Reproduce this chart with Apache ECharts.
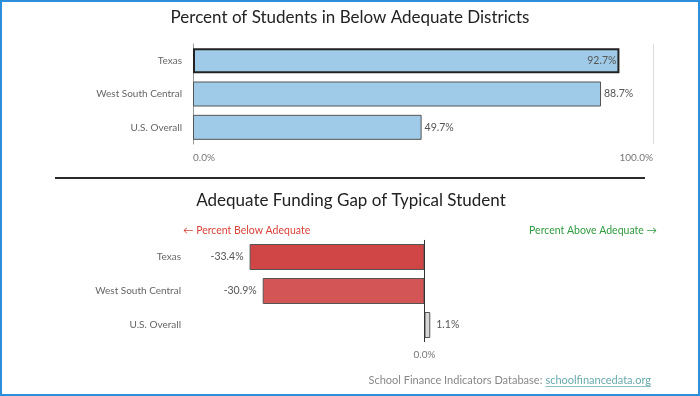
<!DOCTYPE html>
<html><head><meta charset="utf-8">
<script src="https://cdn.jsdelivr.net/npm/echarts@6/dist/echarts.min.js"></script>
<style>html,body{margin:0;padding:0;background:#fff}#c{width:700px;height:396px}</style>
</head><body><div id="c"></div>
<script>
const categories = ['Texas', 'West South Central', 'U.S. Overall'];
const pctBelow = [92.7, 88.7, 49.7];
const fundingGap = [-33.4, -30.9, 1.1];
const topTicks = [0, 100];
const bottomTicks = [0];

const FONT = 'Lato, "Open Sans", sans-serif';
const chart = echarts.init(document.getElementById('c'), null, {renderer: 'canvas'});

function textWidth(t, font) {
  const ctx = document.createElement('canvas').getContext('2d');
  ctx.font = font;
  return ctx.measureText(t).width;
}

const topData = pctBelow.map((v, i) => ({
  value: v,
  itemStyle: i === 0 ? {borderColor: '#222', borderWidth: 2} : {},
  label: i === 0 ? {position: 'insideRight'} : {position: 'right'}
}));
const gapColors = ['#d04545', '#d35555', '#d6d6d6'];
const bottomData = fundingGap.map((v, i) => ({
  value: v,
  itemStyle: {color: v < 0 ? gapColors[i] : gapColors[2]},
  label: {position: v < 0 ? 'left' : 'right'}
}));

const footFont = '11px ' + FONT;
const linkText = 'schoolfinancedata.org';
const linkW = textWidth(linkText, footFont);
const linkRight = 651;
const linkLeft = linkRight - linkW;

chart.setOption({
  animation: false,
  textStyle: {fontFamily: FONT},
  grid: [
    {left: 193, right: 47, top: 44, height: 100},
    {left: 192, right: 43, top: 240, height: 102}
  ],
  xAxis: [
    {gridIndex: 0, type: 'value', min: topTicks[0], max: topTicks[1], interval: 100,
     axisLine: {show: false}, axisTick: {show: false},
     splitLine: {show: true, lineStyle: {color: '#dcdcdc', width: 1}},
     axisLabel: {formatter: v => v.toFixed(1) + '%', color: '#777', fontSize: 10, margin: 9,
                 alignMinLabel: 'left', alignMaxLabel: 'right', fontFamily: FONT}},
    {gridIndex: 1, type: 'value', min: -44.4, max: 44.4,
     axisLine: {show: false}, axisTick: {show: false}, splitLine: {show: false},
     axisLabel: {customValues: bottomTicks, formatter: v => v.toFixed(1) + '%', color: '#777', fontSize: 10, margin: 8, fontFamily: FONT}}
  ],
  yAxis: [
    {gridIndex: 0, type: 'category', data: categories, inverse: true,
     axisLine: {show: true, lineStyle: {color: '#999'}}, axisTick: {show: false},
     axisLabel: {color: '#666', fontSize: 10, margin: 11, fontFamily: FONT}},
    {gridIndex: 1, type: 'category', data: categories, inverse: true,
     axisLine: {show: true, lineStyle: {color: '#e2e2e2'}}, axisTick: {show: false},
     axisLabel: {color: '#666', fontSize: 10, margin: 11, fontFamily: FONT}}
  ],
  series: [
    {type: 'bar', xAxisIndex: 0, yAxisIndex: 0, data: topData, barWidth: 25,
     itemStyle: {color: '#9fcbe8', borderColor: '#555', borderWidth: 1},
     label: {show: true, formatter: p => p.value.toFixed(1) + '%', color: '#555', fontSize: 10.5, distance: 3, fontFamily: FONT}},
    {type: 'bar', xAxisIndex: 1, yAxisIndex: 1, data: bottomData, barWidth: 26,
     itemStyle: {borderColor: '#555', borderWidth: 1},
     label: {show: true, formatter: p => p.value.toFixed(1) + '%', color: '#555', fontSize: 10.5, distance: 6, fontFamily: FONT},
     markLine: {silent: true, symbol: 'none', label: {show: false},
                lineStyle: {color: '#333', type: 'solid', width: 1},
                data: [{xAxis: 0}]}}
  ],
  graphic: [
    {type: 'rect', shape: {x: 1, y: 1, width: 698, height: 394}, style: {fill: 'none', stroke: '#2b8fdb', lineWidth: 2}, silent: true},
    {type: 'text', x: 350, y: 18, style: {text: 'Percent of Students in Below Adequate Districts', fill: '#222', font: '17px ' + FONT, textAlign: 'center', textVerticalAlign: 'middle'}},
    {type: 'line', shape: {x1: 55, y1: 178, x2: 645, y2: 178}, style: {stroke: '#2a2a2a', lineWidth: 2}},
    {type: 'text', x: 351, y: 201, style: {text: 'Adequate Funding Gap of Typical Student', fill: '#222', font: '17px ' + FONT, textAlign: 'center', textVerticalAlign: 'middle'}},
    {type: 'text', x: 183, y: 231, style: {text: '← Percent Below Adequate', fill: '#d9443a', font: '10.5px ' + FONT, textAlign: 'left', textVerticalAlign: 'middle'}},
    {type: 'text', x: 657, y: 231, style: {text: 'Percent Above Adequate →', fill: '#2f9a3f', font: '10.5px ' + FONT, textAlign: 'right', textVerticalAlign: 'middle'}},
    {type: 'text', x: linkLeft - 3, y: 380, style: {text: 'School Finance Indicators Database:', fill: '#888', font: footFont, textAlign: 'right', textVerticalAlign: 'middle'}},
    {type: 'text', x: linkRight, y: 380, style: {text: linkText, fill: '#6aa9ad', font: footFont, textAlign: 'right', textVerticalAlign: 'middle'}},
    {type: 'line', shape: {x1: linkLeft, y1: 386.5, x2: linkRight, y2: 386.5}, style: {stroke: '#8fc0c3', lineWidth: 1}}
  ]
});
</script></body></html>
